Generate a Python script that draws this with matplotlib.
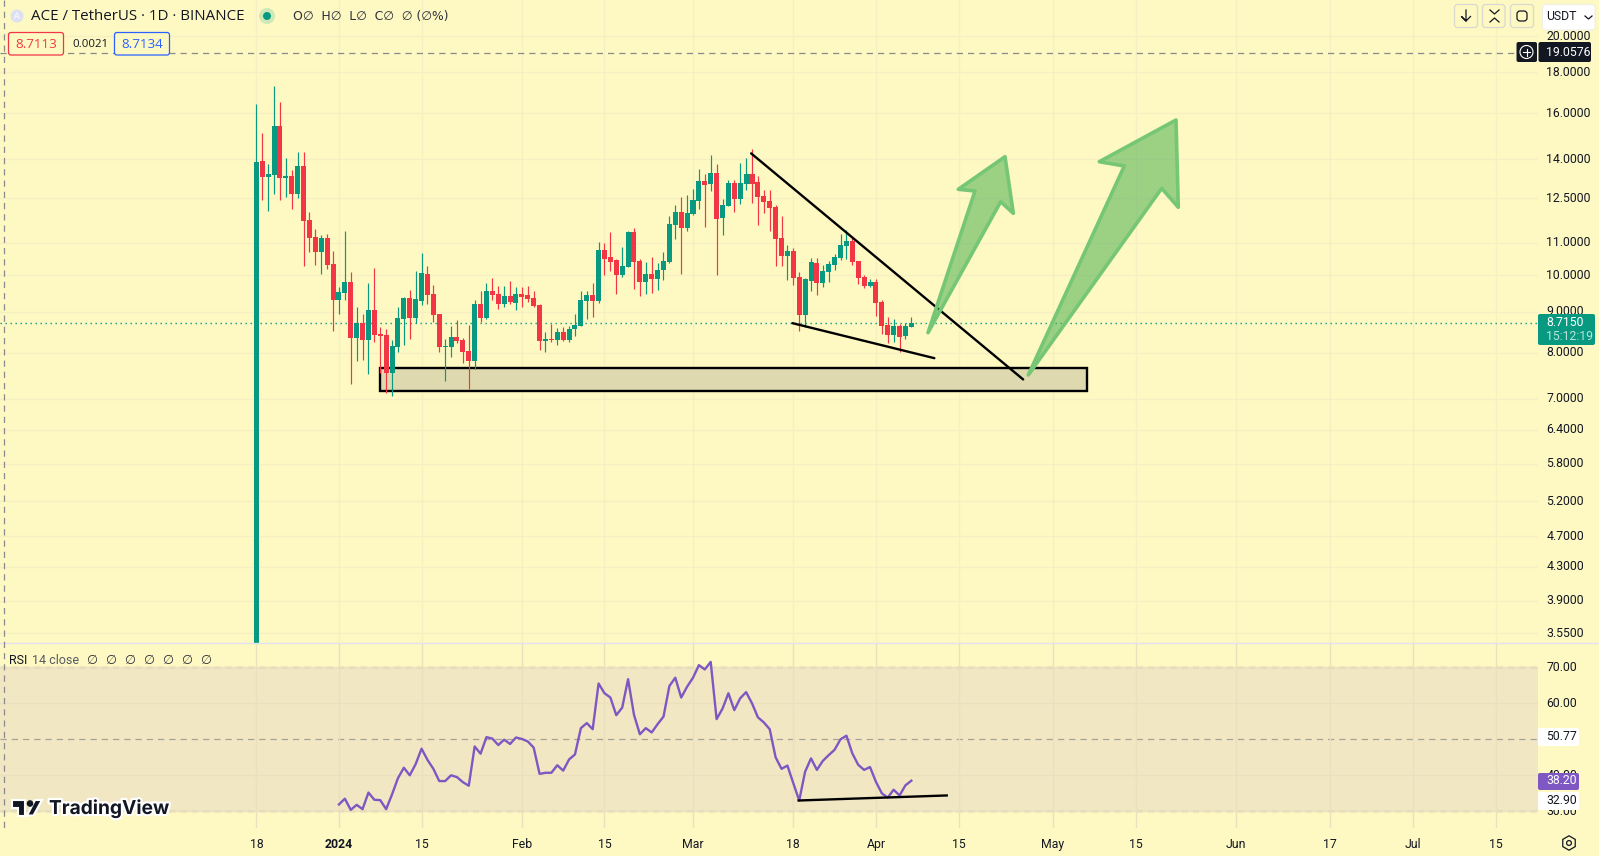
import matplotlib
matplotlib.use("Agg")
import numpy as np
import matplotlib.pyplot as plt
import matplotlib.patheffects as pe
from matplotlib.patches import FancyBboxPatch, Rectangle, Polygon, Circle, RegularPolygon
from matplotlib.transforms import ScaledTranslation

# ---------------- data ----------------
directions = ("GRGGRGRGRRRGRRGGRGRGRRRGGGRGGRRRGGRRRGRGRRGRGRRRRGRGRGGGGRGRRRGGRRGRGGGGRGGGRGRGGRGGRRRRRRGRRGGRGGGGGRRRGRRRGRGG")
highs = [16.44,15.11,13.81,17.32,16.54,14.06,13.58,14.30,14.30,12.02,11.44,11.25,11.28,10.74,9.67,11.38,10.11,9.13,8.94,9.79,
         10.22,8.62,8.57,8.30,9.13,9.39,9.59,10.14,10.68,10.28,9.73,8.94,8.32,8.64,8.79,8.35,8.67,9.31,9.55,9.78,
         9.93,9.70,9.70,9.84,9.67,9.67,9.70,9.55,9.20,8.49,8.68,8.58,8.61,8.63,8.94,9.55,9.55,9.78,11.02,10.98,
         11.34,10.48,10.86,11.37,11.47,10.48,10.39,10.54,10.36,10.70,11.88,12.26,12.55,12.62,12.84,13.61,13.41,14.17,13.81,12.48,
         13.18,13.18,13.85,14.05,14.42,13.34,12.80,12.80,12.26,11.88,10.92,10.83,10.10,9.93,10.51,10.51,10.30,10.42,10.63,11.27,
         11.40,11.18,10.42,10.01,9.90,9.90,9.31,8.87,8.81,8.68,8.71,8.87]
body_tops = [13.89,13.94,13.42,15.42,15.42,13.35,13.35,13.74,13.74,11.75,11.18,11.15,11.15,10.34,9.53,9.81,9.81,8.72,8.72,9.05,
             9.05,8.44,8.42,8.16,8.84,9.36,9.36,9.34,10.08,10.05,9.48,8.94,8.16,8.37,8.37,8.30,8.04,9.21,9.20,9.55,
             9.55,9.47,9.42,9.42,9.47,9.47,9.45,9.36,9.17,8.31,8.31,8.49,8.49,8.56,8.66,9.31,9.45,9.45,10.76,10.76,
             10.54,10.45,10.28,11.34,11.34,10.42,10.04,10.04,10.16,10.42,11.60,12.01,12.01,11.98,12.44,13.15,13.15,13.45,13.45,12.26,
             13.07,13.07,13.07,13.41,13.41,13.11,12.58,12.40,12.19,11.14,10.73,10.73,9.95,9.90,10.39,10.36,10.13,10.33,10.54,10.92,
             11.05,11.05,10.42,9.95,9.81,9.81,9.26,8.66,8.63,8.63,8.63,8.715]
body_bottoms = [3.0,13.28,13.31,13.38,13.27,13.27,12.66,12.66,11.71,11.15,10.71,10.71,10.31,9.31,9.31,9.50,8.35,8.35,8.30,8.30,
                8.42,8.39,7.53,7.53,8.13,8.82,8.84,8.84,9.29,9.45,8.92,8.13,8.13,8.13,8.27,8.01,7.80,7.80,8.84,8.84,
                9.45,9.20,9.20,9.26,9.23,9.39,9.34,9.15,8.27,8.27,8.29,8.29,8.29,8.29,8.56,8.63,9.28,9.28,9.28,10.48,
                10.39,10.01,10.01,10.25,10.39,9.81,9.81,9.90,9.90,10.16,10.39,11.57,11.47,11.47,11.94,12.40,13.00,13.03,11.77,11.81,
                12.22,12.48,12.48,13.03,13.03,12.55,12.37,12.15,11.11,10.57,10.57,9.93,8.91,8.91,9.84,9.78,9.78,10.10,10.30,10.51,
                10.89,10.39,9.93,9.70,9.70,9.23,8.63,8.41,8.41,8.36,8.38,8.61]
lows = [3.0,12.44,12.05,12.66,12.44,12.55,12.12,12.51,10.28,10.71,10.31,10.05,10.19,8.52,8.94,9.31,7.30,7.80,7.83,7.51,
        8.25,7.53,7.11,7.05,8.01,8.18,8.32,8.72,9.18,9.21,8.74,8.01,7.36,7.90,8.23,7.76,7.20,7.62,8.73,8.81,
        9.31,9.07,9.12,9.20,9.04,9.12,9.26,9.12,8.06,8.01,8.24,8.17,8.28,8.24,8.39,8.63,8.81,8.87,9.23,10.01,
        10.13,9.47,9.95,10.25,9.61,9.42,9.47,9.50,9.58,9.87,10.36,11.11,10.04,11.37,11.91,12.12,11.50,12.76,10.01,11.24,
        12.22,12.01,12.30,12.80,12.33,11.57,11.98,11.37,10.28,10.28,9.87,9.72,8.51,8.61,9.55,9.45,9.67,9.81,10.16,10.45,
        10.48,10.30,9.75,9.64,9.67,8.89,8.44,8.22,8.24,8.01,8.31,8.61]
rsi_start = 14
rsi_values = [31.9,33.5,30.4,31.8,30.6,35.2,33.2,33.1,30.6,34.7,39.2,42.1,40.0,43.1,47.4,44.3,41.8,38.4,38.4,40.0,
              39.5,38.1,37.1,48.0,46.0,50.6,50.2,48.4,49.9,48.7,50.5,50.1,49.4,47.7,40.4,40.7,40.7,42.8,41.3,44.4,
              45.8,53.1,54.5,52.8,65.5,62.8,61.6,56.7,58.8,66.7,56.8,51.4,53.1,51.9,54.2,56.3,64.8,67.1,61.6,64.6,
              67.1,70.6,69.4,71.5,55.6,58.5,62.8,58.1,61.4,63.1,60.0,56.1,54.7,52.8,45.0,41.8,42.7,37.8,33.0,41.0,
              44.7,41.5,44.0,45.6,47.1,50.0,51.0,46.1,42.9,41.5,42.3,38.2,35.0,33.8,36.0,34.4,37.2,38.5]
date_ticks = [0,14,28,45,59,74,91,105,119,135,149,166,182,196,210]
date_labels = ["18","2024","15","Feb","15","Mar","18","Apr","15","May","15","Jun","17","Jul","15"]
price_ticks = [20,18,16,14,12.5,11,10,9,8,7,6.4,5.8,5.2,4.7,4.3,3.9,3.55]
rsi_ticks = [70,60,40,30]
last_price = 8.715
cross_price = 19.0576
rsi_bands = [70,50,30]
upper_trend_x, upper_trend_y = [83.85,129.95], [14.24,7.40]
lower_trend_x, lower_trend_y = [90.85,114.9], [8.71,7.87]
zone_x, zone_y = [20.97,140.8], [7.15,7.65]
rsi_trend_x, rsi_trend_y = [91.9,117.0], [33.0,34.4]

# ---------------- style ----------------
BG = "#FEF8C3"
GRID = "#F5EFC1"
UP = "#089981"
DOWN = "#F23645"
TXT = "#131722"
UI_FONT = ["Roboto", "DejaVu Sans"]
HEAD_FONT = ["Open Sans", "DejaVu Sans"]
plt.rcParams["font.family"] = UI_FONT
LAB = 8.8

W, H = 1599, 856
PANE_R, PANE_SPLIT, PANE_B = 1538, 643, 828
fig = plt.figure(figsize=(W/100, H/100), dpi=100, facecolor=BG)
ax = fig.add_axes([0, 1-PANE_SPLIT/H, PANE_R/W, PANE_SPLIT/H], facecolor=BG)
ar = fig.add_axes([0, 1-PANE_B/H, PANE_R/W, (PANE_B-PANE_SPLIT)/H], facecolor=BG, sharex=ax)

xlim = (-43.44, 217.2)
n = len(highs)
x = np.arange(n)
is_up = np.array([d == "G" for d in directions])
highs, lows = np.array(highs), np.array(lows)
tops, bottoms = np.array(body_tops), np.array(body_bottoms)
colors = np.where(is_up, UP, DOWN)

# price pane
ax.set_yscale("log")
ax.set_xlim(*xlim)
ax.set_ylim(3.45, 22.2)
ax.vlines(x, lows, highs, colors=colors, lw=0.85, zorder=5)
ax.bar(x, tops-bottoms, bottom=bottoms, width=0.85, color=colors, linewidth=0, zorder=5)
ax.axhline(last_price, color=UP, lw=1, ls=(0, (1, 2.6)), zorder=3)
ax.axhline(cross_price, color="#8a8a8a", lw=0.9, ls=(0, (5, 4)), zorder=6)
ax.set_yticks(price_ticks)
ax.set_yticklabels([f"{p:.4f}" for p in price_ticks])
ax.minorticks_off()
ax.yaxis.tick_right()
ax.tick_params(axis="y", length=0, pad=6, labelsize=LAB, labelcolor=TXT)
ax.tick_params(axis="x", length=0, labelbottom=False)
ax.grid(True, color=GRID, lw=1.0, zorder=0)
ax.set_axisbelow(True)
for s in ax.spines.values():
    s.set_visible(False)

# drawings anchored to the price scale
ax.add_patch(Rectangle((zone_x[0], zone_y[0]), zone_x[1]-zone_x[0], zone_y[1]-zone_y[0],
                       fc="#DED9AE", ec="black", lw=1.7, zorder=4.5))
ax.plot(upper_trend_x, upper_trend_y, color="black", lw=1.7, zorder=7, solid_capstyle="round")
ax.plot(lower_trend_x, lower_trend_y, color="black", lw=1.7, zorder=7, solid_capstyle="round")

# RSI pane
ar.set_ylim(25.36, 76.75)
ar.axhspan(rsi_bands[2], rsi_bands[0], color="#F2E7C3", lw=0, zorder=1)
for v in rsi_bands:
    ar.axhline(v, color="#A5A39A" if v == 50 else "#787B86", lw=0.9, ls=(0, (5, 4)), zorder=2)
ar.plot(np.arange(rsi_start, rsi_start+len(rsi_values)), rsi_values, color="#7E57C2", lw=1.7, zorder=4)
ar.plot(rsi_trend_x, rsi_trend_y, color="black", lw=1.7, zorder=5)
ar.set_yticks(rsi_ticks)
ar.set_yticklabels([f"{v:.2f}" for v in rsi_ticks])
ar.yaxis.tick_right()
ar.tick_params(axis="y", length=0, pad=6, labelsize=LAB, labelcolor=TXT)
ar.set_xticks(date_ticks)
ar.set_xticklabels(date_labels)
ar.tick_params(axis="x", length=0, pad=7.5, labelsize=LAB, labelcolor=TXT)
ar.get_xticklabels()[1].set_fontweight("bold")
ar.grid(True, color="#EBE0BE", lw=1.0, zorder=1.5)
ar.set_axisbelow(False)
for s in ar.spines.values():
    s.set_visible(False)
ax.set_xticks(date_ticks)

# nudge right-hand labels up by a pixel and a half
nudge = ScaledTranslation(0, 1.5/100, fig.dpi_scale_trans)
for a in (ax, ar):
    for lab in a.get_yticklabels():
        lab.set_transform(lab.get_transform() + nudge)

# overlay in pixels for interface chrome and hand-drawn arrows
ov = fig.add_axes([0, 0, 1, 1], facecolor="none")
ov.set_xlim(0, W); ov.set_ylim(H, 0); ov.axis("off")

def rbox(x0, y0, x1, y1, fc, ec="none", lw=1, r=2.5, z=10):
    ov.add_patch(FancyBboxPatch((x0+r, y0+r), x1-x0-2*r, y1-y0-2*r,
                                boxstyle=f"round,pad={r},rounding_size={r}", fc=fc, ec=ec, lw=lw, zorder=z))

def txt(x0, y0, s, size=LAB, color=TXT, fam=UI_FONT, ha="left", weight="normal", z=11):
    return ov.text(x0, y0, s, fontsize=size, color=color, family=fam, ha=ha, va="center", weight=weight, zorder=z)

# pane separator and crosshair
ov.plot([0, W], [PANE_SPLIT, PANE_SPLIT], color="#E0E3EB", lw=1, zorder=2)
ov.plot([3.5, 3.5], [0, PANE_B], color="#8a8a8a", lw=0.9, ls=(0, (5, 4)), zorder=2)

# arrows
arrow_a = [(928,332.7),(975,191),(958.3,189.3),(1005,156.7),(1013.3,213.3),(1000.7,201.7)]
arrow_b = [(1028.3,375),(1124.3,166),(1099.3,161.7),(1176,120),(1178.3,207.3),(1161.7,188.3)]
for pts in (arrow_a, arrow_b):
    ov.add_patch(Polygon(pts, closed=True, fc="#4CAF50", ec="none", alpha=0.55, zorder=6))
    ov.add_patch(Polygon(pts, closed=True, fc="none", ec="#76C775", lw=2.6, joinstyle="round", zorder=6.5))

# header
ov.add_patch(Circle((17, 16), 6.5, fc="#DDE1EF", ec="none", zorder=10))
txt(17, 16, "A", 6.5, "white", HEAD_FONT, ha="center")
txt(31, 16, "ACE / TetherUS · 1D · BINANCE", 10.9, TXT, HEAD_FONT)
ov.add_patch(Circle((267, 16), 8, fc="#D0E8B8", ec="none", zorder=10))
ov.add_patch(Circle((267, 16), 4, fc=UP, ec="none", zorder=11))
txt(293, 16, "O∅  H∅  L∅  C∅  ∅ (∅%)", 8.9, "#2a2e39", ["DejaVu Sans"])
rbox(8.5, 32.5, 63.5, 55, "#FEF8C3", DOWN, 0.9)
txt(36, 44.5, "8.7113", 9.6, DOWN, HEAD_FONT, ha="center")
txt(72, 44.5, "0.0021", 8.2, TXT, HEAD_FONT)
rbox(114.5, 32.5, 169.5, 55, "#FEF8C3", "#2962FF", 0.9)
txt(142, 44.5, "8.7134", 9.6, "#2962FF", HEAD_FONT, ha="center")

# top right controls
for x0, x1 in ((1454.5, 1477.5), (1482.5, 1505), (1510.5, 1533.5)):
    rbox(x0, 4.5, x1, 27.5, BG, "#D9D9D0", 0.9, r=3)
ov.plot([1466, 1466, 1461.5, 1466, 1470.5], [10, 21, 16.5, 21, 16.5], color=TXT, lw=0.9, zorder=11)
ov.plot([1490, 1494.5, 1499], [10, 14, 10], color=TXT, lw=0.9, zorder=11)
ov.plot([1490, 1494.5, 1499], [22, 18, 22], color=TXT, lw=0.9, zorder=11)
rbox(1517, 11, 1527, 21, BG, TXT, 0.9, r=3)
rbox(1542.5, 4.5, 1595, 30, "white", "#EFEFE5", 0.8, r=3)
txt(1546, 16.5, "USDT", LAB)
ov.plot([1585, 1588.5, 1592], [16, 19, 16], color=TXT, lw=0.9, zorder=11)

# price tags
rbox(1516.5, 42, 1537, 62, "#131722", r=2)
ov.add_patch(Circle((1526.5, 52), 6.5, fc="none", ec="white", lw=0.8, zorder=11))
ov.plot([1523, 1530], [52, 52], color="white", lw=0.8, zorder=11)
ov.plot([1526.5, 1526.5], [48.5, 55.5], color="white", lw=0.8, zorder=11)
rbox(1538.5, 42, 1591, 62, "#131722", r=2)
txt(1546, 52, "19.0576", LAB, "white")
rbox(1538, 314, 1595, 345, UP, r=2)
txt(1546, 322, "8.7150", LAB, "white")
txt(1546, 336.5, "15:12:19", LAB, "#B9E3DB")
rbox(1538, 728, 1579, 746, "white", r=2)
txt(1546, 736.5, "50.77", LAB)
rbox(1538, 773, 1579, 790, "#7E57C2", r=2)
txt(1546, 781, "38.20", LAB, "white")
rbox(1538, 792, 1579, 810, "white", r=2)
txt(1546, 800.5, "32.90", LAB)

# RSI legend
txt(9, 660, "RSI", 9)
txt(32, 660, "14 close", 9, "#555a66")
txt(87, 660, "∅  ∅  ∅  ∅  ∅  ∅  ∅", 9.1, "#2a2e39", ["DejaVu Sans"])

# TradingView watermark
halo = [pe.withStroke(linewidth=3.2, foreground="white")]
logo_t = Polygon([(11.7,800),(25,800),(25,815.5),(18,815.5),(18,807.5),(11.7,807.5)], fc=TXT, ec="white", lw=1.5, zorder=11)
logo_s = Polygon([(35,800),(42,800),(33.5,815.5),(27,815.5)], fc=TXT, ec="white", lw=1.5, zorder=11)
ov.add_patch(logo_t); ov.add_patch(logo_s)
ov.add_patch(Circle((30, 803.5), 3.3, fc=TXT, ec="none", zorder=11))
ov.text(49, 808.5, "TradingView", fontsize=13.8, color=TXT, family=["Inter", "DejaVu Sans"], weight="bold",
        ha="left", va="center", zorder=11, path_effects=halo)

# settings icon
ov.add_patch(RegularPolygon((1569, 843), 6, radius=7.2, orientation=0, fc="none", ec=TXT, lw=0.9, zorder=11))
ov.add_patch(Circle((1569, 843), 2.4, fc="none", ec=TXT, lw=0.9, zorder=11))

fig.savefig("out.png", dpi=100, facecolor=BG)
